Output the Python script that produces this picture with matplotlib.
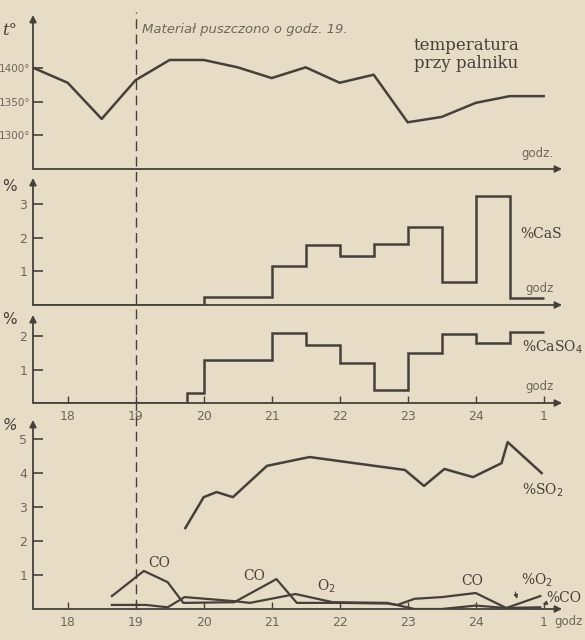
import matplotlib
matplotlib.use("Agg")
import matplotlib.pyplot as plt
from matplotlib.lines import Line2D

# temperatura przy palniku
temp_hours = [17.5, 18.0, 18.5, 19.0, 19.5, 20.0, 20.5, 21.0, 21.5, 22.0, 22.5, 23.0, 23.5, 24.0, 24.5, 25.0]
temp_vals = [1400, 1378, 1324, 1382, 1412, 1412, 1401, 1385, 1401, 1378, 1390, 1319, 1327, 1348, 1358, 1358]

# %CaS (schodki)
cas_edges = [17.49, 20.0, 21.0, 21.5, 22.0, 22.5, 23.0, 23.5, 24.0, 24.5, 25.0]
cas_vals = [0.0, 0.24, 1.16, 1.78, 1.45, 1.81, 2.31, 0.68, 3.23, 0.21]

# %CaSO4 (schodki)
caso4_edges = [17.49, 19.75, 20.0, 21.0, 21.5, 22.0, 22.5, 23.0, 23.5, 24.0, 24.5, 25.0]
caso4_vals = [0.0, 0.3, 1.28, 2.09, 1.73, 1.19, 0.39, 1.49, 2.06, 1.79, 2.12]

# %SO2
so2_hours = [19.73, 20.0, 20.19, 20.43, 20.93, 21.12, 21.41, 21.56, 22.0, 22.96, 23.24, 23.54, 23.96, 24.38, 24.47, 24.97]
so2_vals = [2.38, 3.29, 3.44, 3.29, 4.21, 4.29, 4.41, 4.47, 4.35, 4.09, 3.62, 4.12, 3.88, 4.29, 4.91, 4.0]

# %CO
co_hours = [18.65, 19.12, 19.47, 19.7, 20.45, 21.07, 21.37, 22.0, 22.7, 22.85, 23.1, 23.5, 24.0, 24.45, 24.95]
co_vals = [0.38, 1.12, 0.79, 0.18, 0.2, 0.88, 0.18, 0.18, 0.16, 0.12, 0.3, 0.35, 0.47, 0.03, 0.05]

# %O2
o2_hours = [18.65, 19.15, 19.47, 19.72, 20.45, 20.68, 21.35, 21.9, 22.7, 23.1, 23.5, 24.0, 24.45, 24.95]
o2_vals = [0.12, 0.12, 0.05, 0.35, 0.23, 0.18, 0.44, 0.2, 0.18, 0.0, 0.0, 0.1, 0.03, 0.38]

hour_ticks = [18, 19, 20, 21, 22, 23, 24, 25]
hour_labels = ['18', '19', '20', '21', '22', '23', '24', '1']

bg = '#e7dcc6'
ink = '#45403a'
grey = '#6d675e'

W, H = 585, 640
fig = plt.figure(figsize=(W / 100, H / 100), dpi=100, facecolor=bg)

px_per_h = 68.0
x0 = 17.49
xlim = (x0, x0 + 542 / px_per_h)


def make_ax(top_px, base_px, ylim):
    ax = fig.add_axes([33 / W, 1 - base_px / H, 542 / W, (base_px - top_px) / H])
    ax.set_facecolor('none')
    ax.set_xlim(*xlim)
    ax.set_ylim(*ylim)
    for s in ax.spines.values():
        s.set_visible(False)
    # osie ze strzalkami
    ax.annotate('', xy=(25.27, 0), xytext=(x0, 0), xycoords=('data', 'axes fraction'),
                textcoords=('data', 'axes fraction'),
                arrowprops=dict(arrowstyle='-|>', lw=1.3, color=ink, mutation_scale=10,
                                shrinkA=0, shrinkB=0))
    ax.annotate('', xy=(0, 1), xytext=(0, 0), xycoords='axes fraction',
                arrowprops=dict(arrowstyle='-|>', lw=1.3, color=ink, mutation_scale=10,
                                shrinkA=0, shrinkB=0))
    ax.tick_params(axis='y', direction='in', length=7, width=1.2, color=ink,
                   labelcolor=grey, labelsize=9, pad=4)
    ax.tick_params(axis='x', direction='in', length=0, labelbottom=False)
    return ax


# --- temperatura
ax1 = make_ax(15, 169, (1249.3, 1479.1))
ax1.plot(temp_hours, temp_vals, color=ink, lw=1.8)
ax1.set_yticks([1300, 1350, 1400])
ax1.set_yticklabels(['1300°', '1350°', '1400°'])
ax1.tick_params(axis='y', labelsize=7.5, pad=2)
ax1.text(-0.03, 0.9, 't°', transform=ax1.transAxes, ha='right', va='center',
         fontsize=12, style='italic', family='DejaVu Serif', color=ink)
ax1.text(19.1, 1458, 'Materiał puszczono o godz. 19.', fontsize=9.5, style='italic',
         color=grey, va='center')
ax1.text(23.86, 1420, 'temperatura\nprzy palniku', fontsize=12, family='DejaVu Serif',
         color=ink, ha='center', va='center', linespacing=1.1)
ax1.text(25.15, 1262, 'godz.', fontsize=8.5, color=grey, ha='right', va='bottom')

# --- CaS
ax2 = make_ax(178, 305, (0, 3.77))
ax2.stairs(cas_vals, cas_edges, baseline=None, color=ink, lw=1.8)
ax2.set_yticks([1, 2, 3])
ax2.text(-0.03, 0.93, '%', transform=ax2.transAxes, ha='right', va='center',
         fontsize=11, color=ink)
ax2.text(24.65, 2.1, '%CaS', fontsize=10, family='DejaVu Serif', color=ink, va='center')
ax2.text(25.15, 0.3, 'godz', fontsize=8.5, color=grey, ha='right', va='bottom')

# --- CaSO4
ax3 = make_ax(315, 403, (0, 2.63))
ax3.stairs(caso4_vals, caso4_edges, baseline=None, color=ink, lw=1.8)
ax3.set_yticks([1, 2])
ax3.text(-0.03, 0.95, '%', transform=ax3.transAxes, ha='right', va='center',
         fontsize=11, color=ink)
ax3.text(24.68, 1.65, '%CaSO$_4$', fontsize=10, family='DejaVu Serif', color=ink, va='center')
ax3.text(25.15, 0.3, 'godz', fontsize=8.5, color=grey, ha='right', va='bottom')
ax3.set_xticks(hour_ticks)
ax3.set_xticklabels(hour_labels)
ax3.tick_params(axis='x', direction='in', length=5, width=1, color=ink,
                labelbottom=True, labelcolor=grey, labelsize=9, pad=5)

# --- gazy
ax4 = make_ax(420, 609, (0, 5.56))
ax4.plot(so2_hours, so2_vals, color=ink, lw=1.8)
ax4.plot(co_hours, co_vals, color=ink, lw=1.6)
ax4.plot(o2_hours, o2_vals, color=ink, lw=1.6)
ax4.set_yticks([1, 2, 3, 4, 5])
ax4.text(-0.03, 0.97, '%', transform=ax4.transAxes, ha='right', va='center',
         fontsize=11, style='italic', color=ink)
ax4.set_xticks(hour_ticks)
ax4.set_xticklabels(hour_labels)
ax4.tick_params(axis='x', direction='in', length=5, width=1, color=ink,
                labelbottom=True, labelcolor=grey, labelsize=9, pad=5)
ax4.text(25.15, -0.38, 'godz', fontsize=8.5, color=grey, ha='left', va='center', clip_on=False)
ax4.text(24.68, 3.5, '%SO$_2$', fontsize=10, family='DejaVu Serif', color=ink, va='center')
serif = dict(fontsize=10, family='DejaVu Serif', color=ink, ha='center', va='center')
ax4.text(19.35, 1.35, 'CO', **serif)
ax4.text(20.75, 0.97, 'CO', **serif)
ax4.text(21.8, 0.68, 'O$_2$', **serif)
ax4.text(23.95, 0.83, 'CO', **serif)
ax4.text(24.9, 0.85, '%O$_2$', **serif)
ax4.text(25.3, 0.33, '%CO', **serif)
ax4.annotate('', xy=(24.62, 0.22), xytext=(24.57, 0.58),
             arrowprops=dict(arrowstyle='-|>', lw=0.8, color=ink, mutation_scale=6))
ax4.annotate('', xy=(24.95, 0.1), xytext=(25.07, 0.2),
             arrowprops=dict(arrowstyle='-|>', lw=0.8, color=ink, mutation_scale=6))

# linia przerywana o godz. 19
xd = (33 + (19 - x0) * px_per_h) / W
fig.add_artist(Line2D([xd, xd], [1 - 609 / H, 1 - 12 / H], color=ink, lw=1.0,
                      linestyle=(0, (7, 4))))

fig.savefig('out.png', dpi=100, facecolor=bg)
